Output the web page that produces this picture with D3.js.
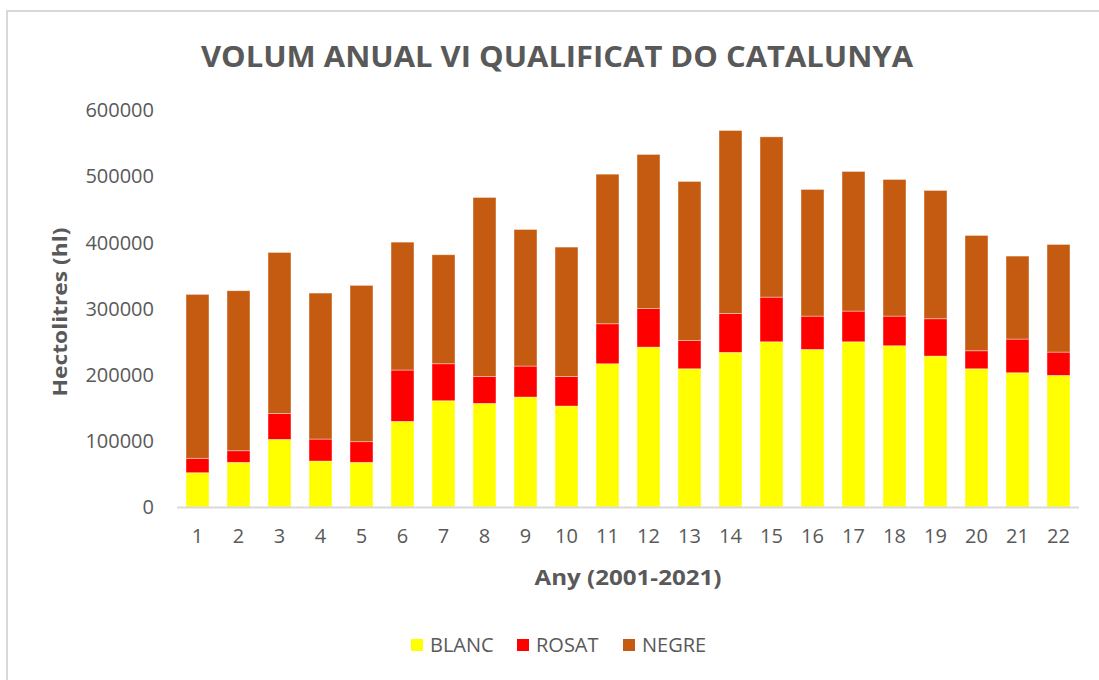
<!DOCTYPE html>
<html>
<head>
<meta charset="utf-8">
<script src="https://cdn.jsdelivr.net/npm/d3@7"></script>
<style>
  html, body { margin: 0; padding: 0; background: #fff; }
  svg { display: block; }
  text { font-family: "Open Sans", "Noto Sans", sans-serif; fill: #595959; }
</style>
</head>
<body>
<svg id="chart" width="1099" height="680"></svg>
<script>
const categories = ["1","2","3","4","5","6","7","8","9","10","11","12","13","14","15","16","17","18","19","20","21","22"];
const blanc = [51800, 67500, 102200, 69500, 67500, 129400, 160600, 156600, 166200, 152600, 216500, 241700, 208900, 233700, 249700, 238200, 249700, 243700, 228100, 208900, 202900, 198900];
const rosat = [21800, 17500, 39300, 33200, 31200, 77600, 55900, 40800, 46800, 44800, 60400, 58400, 42900, 58900, 67500, 50300, 46400, 44800, 56400, 27200, 50900, 35200];
const negre = [247700, 241800, 243200, 220600, 236200, 193300, 164700, 270400, 206400, 195400, 226100, 232700, 240200, 276400, 242200, 191400, 211000, 206500, 193900, 174300, 125400, 162700];
const seriesNames = ["BLANC", "ROSAT", "NEGRE"];
const seriesColors = ["#FFFF00", "#FF0000", "#C55A11"];
const yTicks = [0, 100000, 200000, 300000, 400000, 500000, 600000];

const svg = d3.select("#chart");

// outer frame (chart area border)
svg.append("rect")
  .attr("x", 7).attr("y", 11)
  .attr("width", 1200).attr("height", 800)
  .attr("fill", "none").attr("stroke", "#D9D9D9").attr("stroke-width", 2);

const plot = { left: 177, right: 1079, top: 110, bottom: 507 };

const x = d3.scaleBand().domain(categories).range([plot.left, plot.right]).paddingInner(0.44).paddingOuter(0.22);
const y = d3.scaleLinear().domain([0, 600000]).range([plot.bottom, plot.top]);

const table = categories.map((c, i) => ({ cat: c, BLANC: blanc[i], ROSAT: rosat[i], NEGRE: negre[i] }));
const stack = d3.stack().keys(seriesNames)(table);

// bars
svg.append("g").selectAll("g")
  .data(stack).join("g")
  .attr("fill", (d, i) => seriesColors[i])
  .selectAll("rect")
  .data(d => d).join("rect")
  .attr("x", d => x(d.data.cat))
  .attr("y", d => y(d[1]))
  .attr("width", x.bandwidth())
  .attr("height", d => y(d[0]) - y(d[1]))
  .attr("stroke", "#ffffff").attr("stroke-opacity", 0.5).attr("stroke-width", 0.75);

// x axis line
svg.append("line")
  .attr("x1", plot.left).attr("x2", plot.right)
  .attr("y1", y(0) + 0.5).attr("y2", y(0) + 0.5)
  .attr("stroke", "#D9D9D9").attr("stroke-width", 2);

// y axis labels
const yAxis = d3.axisLeft(y).tickValues(yTicks).tickSize(0).tickPadding(0).tickFormat(d3.format("d"));
const gy = svg.append("g").attr("transform", `translate(154,0)`).call(yAxis);
gy.select(".domain").remove();
gy.selectAll("text").style("font-family", "'Open Sans', sans-serif").style("font-size", "20px").attr("fill", "#595959").attr("dy", "0.34em");

// x axis labels
const xAxis = d3.axisBottom(x).tickSize(0).tickPadding(0);
const gx = svg.append("g").attr("transform", `translate(0,${plot.bottom + 22})`).call(xAxis);
gx.select(".domain").remove();
gx.selectAll("text").style("font-family", "'Open Sans', sans-serif").style("font-size", "20px").attr("fill", "#595959").attr("dy", "0.71em");

// title
svg.append("text")
  .attr("x", 557).attr("y", 67)
  .attr("text-anchor", "middle")
  .attr("textLength", 712).attr("lengthAdjust", "spacingAndGlyphs")
  .style("font-size", "29px").style("font-weight", "bold")
  .text("VOLUM ANUAL VI QUALIFICAT DO CATALUNYA");

// x axis title
svg.append("text")
  .attr("x", 628).attr("y", 585)
  .attr("text-anchor", "middle")
  .attr("textLength", 187).attr("lengthAdjust", "spacingAndGlyphs")
  .style("font-size", "21px").style("font-weight", "bold")
  .text("Any (2001-2021)");

// y axis title
svg.append("text")
  .attr("transform", "translate(67,312) rotate(-90)")
  .attr("text-anchor", "middle")
  .attr("textLength", 169).attr("lengthAdjust", "spacingAndGlyphs")
  .style("font-size", "20px").style("font-weight", "bold")
  .text("Hectolitres (hl)");

// legend
const legendX = [411, 517, 623];
const lg = svg.append("g").selectAll("g").data(seriesNames).join("g")
  .attr("transform", (d, i) => `translate(${legendX[i]},645)`);
lg.append("rect").attr("x", 0).attr("y", -6).attr("width", 12).attr("height", 12)
  .attr("fill", (d, i) => seriesColors[i]);
lg.append("text").attr("x", 19).attr("y", 0).attr("dy", "0.35em")
  .style("font-size", "20px").text(d => d);
</script>
</body>
</html>
